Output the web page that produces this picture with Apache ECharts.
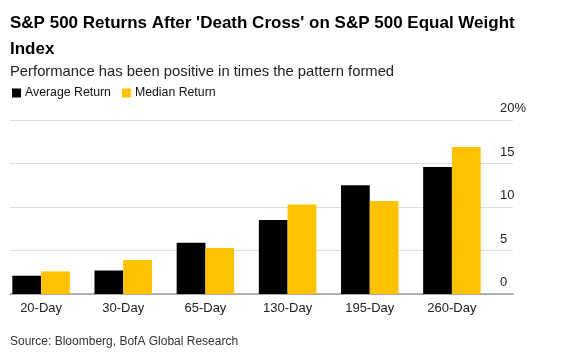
<!DOCTYPE html>
<html>
<head>
<meta charset="utf-8">
<script src="https://cdn.jsdelivr.net/npm/echarts@6/dist/echarts.min.js"></script>
<style>
  html, body { margin: 0; padding: 0; background: #fff; }
  #chart { width: 567px; height: 353px; }
</style>
</head>
<body>
<div id="chart"></div>
<script>
var categories = ['20-Day', '30-Day', '65-Day', '130-Day', '195-Day', '260-Day']
var averageReturn = [2.1, 2.7, 5.9, 8.5, 12.5, 14.6]
var medianReturn = [2.6, 3.9, 5.3, 10.3, 10.7, 16.9]
var yTicks = [0, 5, 10, 15, 20]

var font = 'Liberation Sans, Arial, sans-serif'
var chart = echarts.init(document.getElementById('chart'))

chart.setOption({
  animation: false,
  textStyle: { fontFamily: font },
  title: [
    {
      text: "S&P 500 Returns After 'Death Cross' on S&P 500 Equal Weight\nIndex",
      left: 10,
      top: 10,
      padding: 0,
      textStyle: { fontSize: 17, fontWeight: 'bold', color: '#000', lineHeight: 26, fontFamily: font }
    },
    {
      text: 'Performance has been positive in times the pattern formed',
      left: 10,
      top: 64,
      padding: 0,
      textStyle: { fontSize: 14.8, fontWeight: 'normal', color: '#222', fontFamily: font }
    },
    {
      text: 'Source: Bloomberg, BofA Global Research',
      left: 10,
      top: 336,
      padding: 0,
      textStyle: { fontSize: 12, fontWeight: 'normal', color: '#333', fontFamily: font }
    }
  ],
  legend: {
    left: 12,
    top: 87,
    padding: 0,
    itemWidth: 9,
    itemHeight: 9,
    itemGap: 11,
    icon: 'rect',
    textStyle: { fontSize: 12.3, color: '#111', padding: [0, 0, 0, -1] },
    data: ['Average Return', 'Median Return']
  },
  grid: [
    // bars
    { left: -5, right: 74, top: 120, bottom: 59 },
    // gridlines + value labels
    { left: 10, right: 54, top: 120, bottom: 59 }
  ],
  xAxis: [
    {
      gridIndex: 0,
      type: 'category',
      data: categories,
      axisLine: { show: false },
      axisTick: { show: false },
      axisLabel: { color: '#222', fontSize: 13, margin: 8 }
    },
    {
      gridIndex: 1,
      type: 'category',
      data: [''],
      axisLine: { show: true, lineStyle: { color: '#999', width: 1.5 } },
      axisTick: { show: false },
      axisLabel: { show: false }
    }
  ],
  yAxis: [
    {
      gridIndex: 0,
      type: 'value',
      min: 0,
      max: 20,
      show: false
    },
    {
      gridIndex: 1,
      type: 'value',
      position: 'right',
      min: yTicks[0],
      max: yTicks[yTicks.length - 1],
      interval: 5,
      axisLine: { show: false },
      axisTick: { show: false },
      splitLine: { lineStyle: { color: '#ddd', width: 1 } },
      axisLabel: {
        margin: -13,
        color: '#222',
        fontSize: 13,
        verticalAlign: 'bottom',
        padding: [0, 0, 5, 0],
        formatter: function (v) { return v === 20 ? '20%' : String(v) }
      }
    }
  ],
  series: [
    {
      name: 'Average Return',
      type: 'bar',
      xAxisIndex: 0,
      yAxisIndex: 0,
      data: averageReturn,
      barGap: '0%',
      barCategoryGap: '30%',
      itemStyle: { color: '#000' }
    },
    {
      name: 'Median Return',
      type: 'bar',
      xAxisIndex: 0,
      yAxisIndex: 0,
      data: medianReturn,
      barGap: '0%',
      barCategoryGap: '30%',
      itemStyle: { color: '#FFC200' }
    }
  ]
})
</script>
</body>
</html>
